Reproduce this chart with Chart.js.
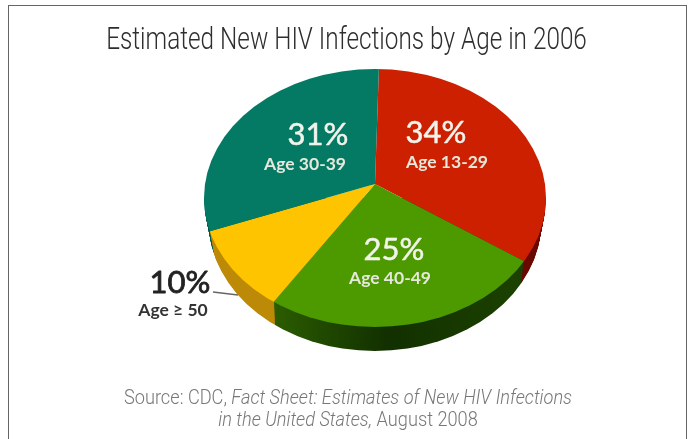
<!DOCTYPE html>
<html><head><meta charset="utf-8">
<script src="https://cdn.jsdelivr.net/npm/chart.js@4"></script>
<style>
html,body{margin:0;padding:0;background:#fff;width:689px;height:439px;overflow:hidden}
#wrap{position:relative;width:689px;height:439px}
canvas{position:absolute;left:0;top:0}
#frame{position:absolute;left:8px;top:5px;width:677px;height:440px;border:1.5px solid #666;box-sizing:content-box}
#ttl{position:absolute;left:0;top:19px;width:693px;text-align:center;white-space:nowrap;font:300 32px/38px Roboto,sans-serif;color:#2e2e2e;transform:scaleX(.76);transform-origin:346.5px 0}
#src{position:absolute;left:0;top:387px;width:696px;text-align:center;white-space:nowrap;font:300 21px/21.5px Roboto,sans-serif;color:#777;transform:scaleX(.866);transform-origin:348px 0}
</style></head>
<body><div id="wrap">
<div id="frame"></div>
<canvas id="c" width="689" height="439"></canvas>
<div id="ttl"></div>
<div id="src">Source: CDC, <i>Fact Sheet: Estimates of New HIV Infections</i><br><i>in the United States,</i> August 2008</div>
</div>
<script>
const titleText = "Estimated New HIV Infections by Age in 2006";
const categories = ["Age 13-29", "Age 40-49", "Age \u2265 50", "Age 30-39"];
const shares = [34, 25, 10, 31];
const topColors = ["#cc2000", "#4c9900", "#ffc400", "#047a64"];
const sideColors = ["#6a0800", "#1f4400", "#bd8a08", "#035a4a"];

// Tilted disc: rim ellipse, plus the off-centre hub the slices fan out from
const rim = {cx: 375, cy: 198, rx: 171, ry: 129, depth: 24, taper: 0.2};
const hub = {x: 375, y: 184, sx: 171, syUp: 115, syDown: 132.5, over: 1.35};
// Label anchors per slice
const pctAt = [{x: 436, y: 143}, {x: 394, y: 260}, {x: 180, y: 293}, {x: 318, y: 145}];
const ageAt = [{x: 447, y: 168}, {x: 390, y: 284}, {x: 173, y: 316}, {x: 305, y: 170}];
const darkLabel = [false, false, true, false];

document.getElementById("ttl").textContent = titleText;

function wedge(ctx, arc, upper, dy, fn) {
  ctx.save();
  ctx.beginPath();
  ctx.ellipse(rim.cx, rim.cy + dy, rim.rx - rim.taper * dy, rim.ry, 0, 0, Math.PI * 2);
  ctx.clip();
  ctx.beginPath();
  if (upper) ctx.rect(0, 0, 689, hub.y + dy + 0.5);
  else ctx.rect(0, hub.y + dy - 0.5, 689, 439);
  ctx.clip();
  const r = arc.outerRadius;
  ctx.translate(hub.x, hub.y + dy);
  ctx.scale(hub.over * hub.sx / r, hub.over * (upper ? hub.syUp : hub.syDown) / r);
  ctx.translate(-arc.x, -arc.y);
  fn();
  ctx.restore();
}

const tiltedPie = {
  id: "tiltedPie",
  beforeDatasetDraw(chart, args) {
    const ctx = chart.ctx, arcs = args.meta.data;
    ctx.save();
    ctx.filter = "blur(0.5px)";
    for (let dy = rim.depth; dy >= 1; dy--) {
      arcs.forEach((arc, i) => {
        ctx.save();
        ctx.beginPath();
        ctx.rect(0, rim.cy, 689, 439);
        ctx.clip();
        [true, false].forEach(up => wedge(ctx, arc, up, dy, () => {
          ctx.beginPath();
          ctx.moveTo(arc.x, arc.y);
          ctx.arc(arc.x, arc.y, arc.outerRadius, arc.startAngle, arc.endAngle);
          ctx.closePath();
          // shade the green wall darker toward the front, lighter at its ends
          if (i === 1) {
            const t = ctx.getTransform().inverse();
            const g = ctx.createLinearGradient(t.a * 275 + t.e, 0, t.a * 525 + t.e, 0);
            g.addColorStop(0, "#2b5c00");
            g.addColorStop(0.45, "#123000");
            g.addColorStop(1, "#1c4200");
            ctx.fillStyle = g;
          } else {
            ctx.fillStyle = sideColors[i];
          }
          ctx.fill();
        }));
        ctx.restore();
      });
    }
    [true, false].forEach(up => arcs.forEach(arc => wedge(ctx, arc, up, 0, () => arc.draw(ctx))));
    ctx.restore();
    return false;
  },
  afterDatasetsDraw(chart) {
    const ctx = chart.ctx;
    ctx.save();
    ctx.textAlign = "center";
    ctx.textBaseline = "alphabetic";
    ctx.lineJoin = "round";
    shares.forEach((v, i) => {
      const dark = darkLabel[i];
      ctx.fillStyle = dark ? "#222" : "#f2f4ec";
      ctx.strokeStyle = ctx.fillStyle;
      ctx.lineWidth = dark ? 0.8 : 0.5;
      ctx.font = '31px Lato, "Open Sans", sans-serif';
      ctx.fillText(v + "%", pctAt[i].x, pctAt[i].y);
      ctx.strokeText(v + "%", pctAt[i].x, pctAt[i].y);
      ctx.fillStyle = dark ? "#333" : "#e6e8dc";
      ctx.font = 'bold 17.5px Lato, "Open Sans", sans-serif';
      ctx.fillText(categories[i], ageAt[i].x, ageAt[i].y);
    });
    ctx.strokeStyle = "#666";
    ctx.lineWidth = 1.5;
    ctx.beginPath();
    ctx.moveTo(213, 292);
    ctx.lineTo(238, 295);
    ctx.stroke();
    ctx.restore();
  }
};

new Chart(document.getElementById("c"), {
  type: "pie",
  data: {labels: categories, datasets: [{data: shares, backgroundColor: topColors, borderWidth: 0}]},
  options: {
    responsive: false,
    animation: false,
    rotation: 1.3,
    plugins: {legend: {display: false}, tooltip: {enabled: false}, title: {display: false}}
  },
  plugins: [tiltedPie]
});
</script>
</body></html>
